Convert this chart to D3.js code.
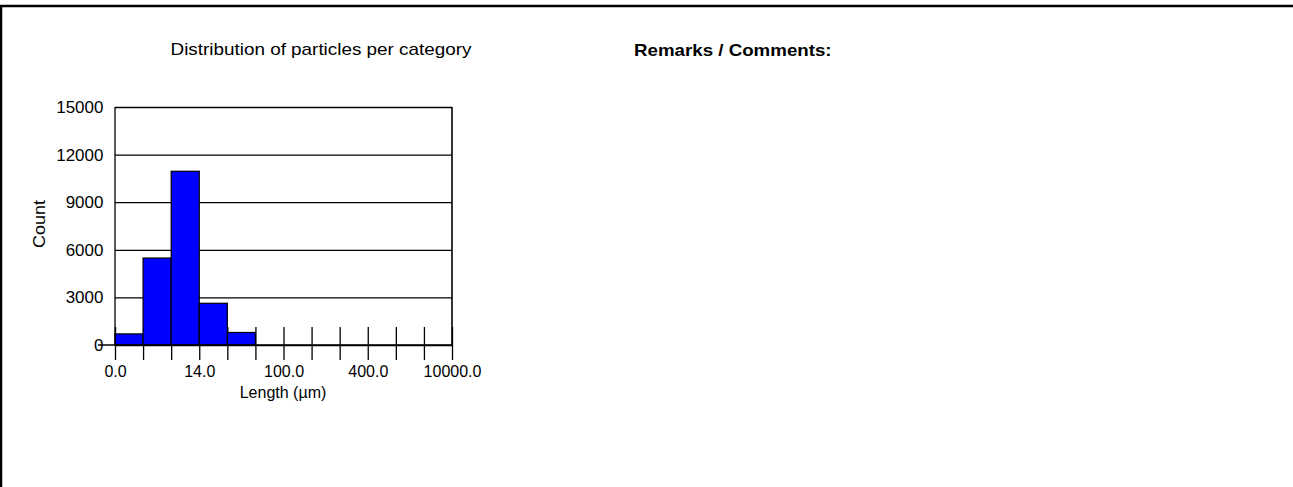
<!DOCTYPE html>
<html>
<head>
<meta charset="utf-8">
<script src="https://cdn.jsdelivr.net/npm/d3@7"></script>
<style>
  body { margin: 0; background: #fff; }
  svg text { font-family: "Liberation Sans", Arial, sans-serif; fill: #000; }
</style>
</head>
<body>
<script>
// particle counts per length bin (12 bins)
var binCounts = [700, 5480, 10950, 2630, 790, 0, 0, 0, 0, 0, 0, 0];
// labels at the bin edges (13 edges)
var edgeLabels = ["0.0", "", "", "14.0", "", "", "100.0", "", "", "400.0", "", "", "10000.0"];
var yTicks = [0, 3000, 6000, 9000, 12000, 15000];

(function() {
  var W = 1293, H = 487;
  var plotL = 115, plotR = 452, plotT = 107, plotB = 345;

  var svg = d3.select('body').append('svg').attr('width', W).attr('height', H);

  // page frame (top + left rule)
  svg.append('line').attr('x1', 0).attr('x2', W).attr('y1', 6).attr('y2', 6)
    .attr('stroke', '#000').attr('stroke-width', 2.5);
  svg.append('line').attr('x1', 1).attr('x2', 1).attr('y1', 5).attr('y2', H)
    .attr('stroke', '#000').attr('stroke-width', 2.5);

  var x = d3.scaleLinear().domain([0, binCounts.length]).range([plotL, plotR]);
  var y = d3.scaleLinear().domain([0, 15000]).range([plotB, plotT]);

  // gridlines + y tick stubs
  var gy = svg.append('g').attr('transform', 'translate(' + plotL + ',0)')
    .call(d3.axisLeft(y).tickValues(yTicks).tickSize(17).tickPadding(-6).tickFormat(d3.format('d')));
  gy.select('.domain').remove();
  gy.selectAll('.tick line').attr('x2', plotR - plotL).attr('stroke', '#000').attr('stroke-width', 1.3);
  gy.selectAll('.tick text').style('font-size', '16px').attr('dy', '0.34em')
    .attr('transform', 'scale(1.06,1)');

  // x ticks at bin edges, crossing the axis
  var gx = svg.append('g').attr('transform', 'translate(0,' + plotB + ')')
    .call(d3.axisBottom(x).tickValues(d3.range(edgeLabels.length)).tickSize(15).tickPadding(6)
      .tickFormat(function(d) { return edgeLabels[d]; }));
  gx.select('.domain').remove();
  gx.selectAll('.tick line').attr('y1', -18).attr('stroke', '#000').attr('stroke-width', 1.3);
  gx.selectAll('.tick text').style('font-size', '16px').attr('dy', '0.71em');

  // bars
  svg.selectAll('rect.bar').data(binCounts.map(function(v, i) { return {i: i, v: v}; })
      .filter(function(d) { return d.v > 0; }))
    .enter().append('rect').attr('class', 'bar')
    .attr('x', function(d) { return x(d.i); })
    .attr('width', function(d) { return x(d.i + 1) - x(d.i); })
    .attr('y', function(d) { return y(d.v); })
    .attr('height', function(d) { return plotB - y(d.v); })
    .attr('fill', '#0000ff').attr('stroke', '#000').attr('stroke-width', 1.2);

  // plot frame lines
  svg.append('line').attr('x1', plotL).attr('x2', plotL).attr('y1', plotT).attr('y2', plotB)
    .attr('stroke', '#000').attr('stroke-width', 1.3);
  svg.append('line').attr('x1', plotR).attr('x2', plotR).attr('y1', plotT).attr('y2', plotB)
    .attr('stroke', '#000').attr('stroke-width', 1.6);
  svg.append('line').attr('x1', plotL - 17).attr('x2', plotR).attr('y1', plotB).attr('y2', plotB)
    .attr('stroke', '#000').attr('stroke-width', 1.6);

  // titles
  svg.append('text').attr('transform', 'translate(321,55) scale(1.18,1)')
    .attr('text-anchor', 'middle').style('font-size', '16px')
    .text('Distribution of particles per category');
  svg.append('text').attr('transform', 'translate(634,56) scale(1.17,1)')
    .style('font-size', '16px').style('font-weight', 'bold')
    .text('Remarks / Comments:');
  svg.append('text').attr('transform', 'translate(45,224) rotate(-90) scale(1.12,1)')
    .attr('text-anchor', 'middle').style('font-size', '16px')
    .text('Count');
  svg.append('text').attr('transform', 'translate(283,398)')
    .attr('text-anchor', 'middle').style('font-size', '16px')
    .text('Length (µm)');
})();
</script>
</body>
</html>
